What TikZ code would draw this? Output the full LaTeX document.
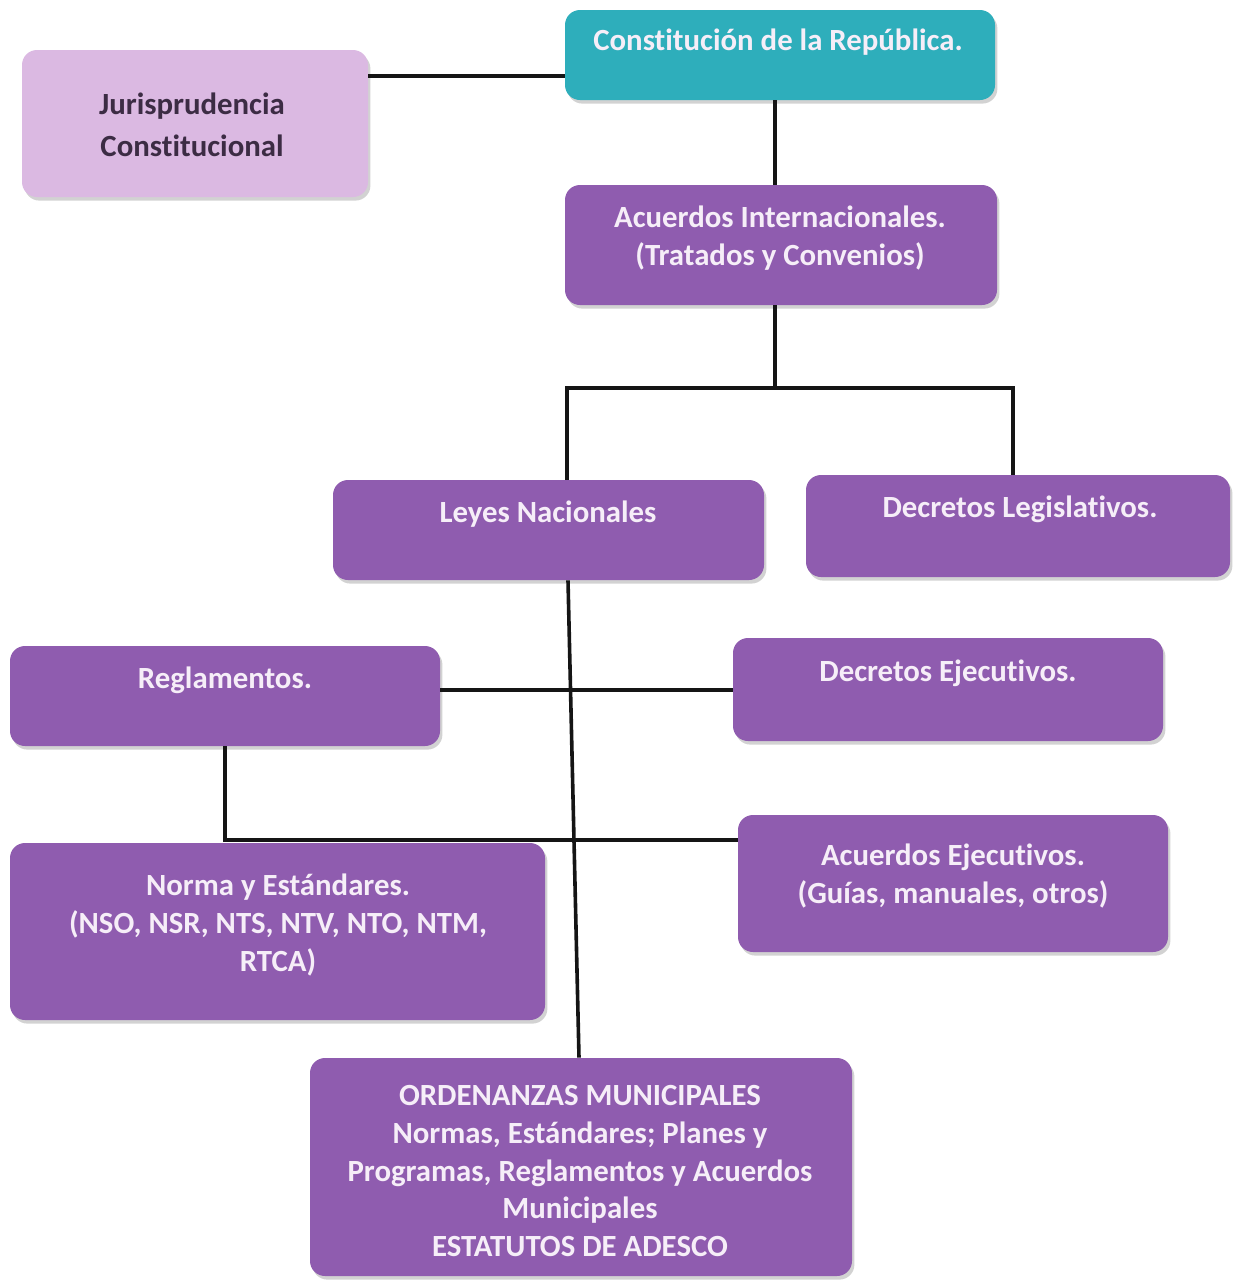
\documentclass[tikz,border=0pt]{standalone}
\usepackage{fontspec}
\setmainfont[RawFeature={-liga;-clig;-calt;-dlig}]{Carlito}
\usetikzlibrary{shadows,calc}
\definecolor{purp}{HTML}{8F5CAF}
\definecolor{teal2}{HTML}{2EAEBB}
\definecolor{lav}{HTML}{DBB9E2}
\definecolor{txtw}{HTML}{F6EEF8}
\definecolor{txtd}{HTML}{3C2C44}
\definecolor{linec}{HTML}{151515}
\tikzset{
  box/.style={rounded corners=7.5pt, inner sep=0pt, draw=none,
    drop shadow={opacity=0.35, shadow xshift=1.2pt, shadow yshift=-1.8pt}},
  pbox/.style={box, fill=purp},
  lbl/.style={align=center, inner sep=0pt, text=txtw,
    font=\fontsize{15.4}{18.8}\selectfont\bfseries},
  conn/.style={draw=linec, line width=1.8pt}
}
\begin{document}
\begin{tikzpicture}[x=0.5pt, y=-0.5pt]
\useasboundingbox (0,0) rectangle (1233,1280);
\fill[white] (0,0) rectangle (1233,1280);
% boxes
\node[box, fill=lav, minimum width=173pt, minimum height=73.5pt] (jur) at (195,123.5) {};
\node[box, fill=teal2, minimum width=215pt, minimum height=45pt] (con) at (780,55) {};
\node[pbox, minimum width=216pt, minimum height=60pt] (aci) at (781,245) {};
\node[pbox, minimum width=215.5pt, minimum height=50pt] (ley) at (548.5,530) {};
\node[pbox, minimum width=212pt, minimum height=51pt] (dle) at (1018,526) {};
\node[pbox, minimum width=215pt, minimum height=50pt] (reg) at (225,696) {};
\node[pbox, minimum width=215pt, minimum height=51.5pt] (dej) at (948,689.5) {};
\node[pbox, minimum width=267.5pt, minimum height=88.5pt] (nor) at (277.5,931.5) {};
\node[pbox, minimum width=215pt, minimum height=68.5pt] (aej) at (953,883.5) {};
\node[pbox, minimum width=271pt, minimum height=109pt] (ord) at (581,1167) {};
% texts
\node[lbl, text=txtd, font=\fontsize{15.4}{21}\selectfont\bfseries] (jurT) at (192,125) {Jurisprudencia\\Constitucional};
\node[lbl] (conT) at (778,42) {Constitución de la República.};
\node[lbl] (aciT) at (780,238) {Acuerdos Internacionales.\\(Tratados y Convenios)};
\node[lbl] (leyT) at (548,514) {Leyes Nacionales};
\node[lbl] (dleT) at (1020,509) {Decretos Legislativos.};
\node[lbl] (regT) at (225,680) {Reglamentos.};
\node[lbl] (dejT) at (948,673) {Decretos Ejecutivos.};
\node[lbl] (norT) at (278,925) {Norma y Estándares.\\(NSO, NSR, NTS, NTV, NTO, NTM,\\RTCA)};
\node[lbl] (aejT) at (953,876) {Acuerdos Ejecutivos.\\(Guías, manuales, otros)};
\node[lbl] (ordT) at (580,1171) {ORDENANZAS MUNICIPALES\\Normas, Estándares; Planes y\\Programas, Reglamentos y Acuerdos\\Municipales\\ESTATUTOS DE ADESCO};
% connectors
\draw[conn] ([yshift=23.75pt]jur.east) -- ([yshift=23.75pt]jur.east -| con.west);
\draw[conn] ([xshift=-2.5pt]con.south) -- ([xshift=-2.5pt]con.south |- aci.north);
\coordinate (bus) at (775,388);
\coordinate (bl) at (567,388);
\coordinate (br) at (1013,388);
\draw[conn] (aci.south -| bus) -- (bus);
\draw[conn, line cap=rect] (bl) -- (br);
\draw[conn] (bl) -- (bl |- ley.north);
\draw[conn] (br) -- (br |- dle.north);
\draw[conn] ([xshift=9.75pt]ley.south) -- ([xshift=-1pt]ord.north);
\draw[conn] ([yshift=3pt]reg.east) -- ([yshift=3pt]reg.east -| dej.west);
\draw[conn, line join=miter] (reg.south) |- ([yshift=21.75pt]aej.west);
\end{tikzpicture}
\end{document}
